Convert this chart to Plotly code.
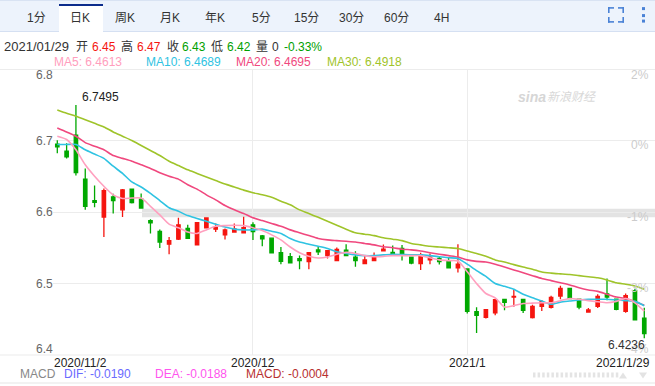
import plotly.graph_objects as go

# ---------- data ----------
open_ = [6.695,6.685,6.7074,6.646,6.616,6.593,6.621,6.603,6.632,6.618,6.588,6.573,6.555,6.562,6.577,6.554,6.578,6.576,6.568,6.572,6.571,6.582,6.5667,6.5634,6.543,6.5375,6.5347,6.5306,6.547,6.539,6.532,6.5468,6.537,6.528,6.532,6.5458,6.5435,6.549,6.537,6.528,6.533,6.535,6.5315,6.522,6.5204,6.4606,6.4528,6.4588,6.4778,6.481,6.4778,6.4523,6.468,6.4667,6.4824,6.493,6.478,6.46,6.468,6.4856,6.478,6.461,6.49,6.4514]
close = [6.691,6.677,6.655,6.608,6.6135,6.63,6.616,6.631,6.613,6.6055,6.585,6.558,6.56,6.582,6.563,6.585,6.5917,6.578,6.575,6.5764,6.578,6.5727,6.5625,6.543,6.531,6.529,6.532,6.543,6.5444,6.546,6.5477,6.539,6.532,6.533,6.5375,6.548,6.5407,6.542,6.5287,6.54,6.537,6.5306,6.522,6.527,6.461,6.4556,6.4634,6.4773,6.4736,6.482,6.4625,6.468,6.4745,6.4806,6.493,6.479,6.467,6.463,6.482,6.481,6.464,6.483,6.449,6.43]
high = [6.7005,6.696,6.7495,6.661,6.637,6.633,6.6255,6.632,6.633,6.626,6.59,6.5755,6.565,6.592,6.582,6.586,6.592,6.584,6.577,6.584,6.5935,6.5856,6.568,6.5635,6.551,6.5426,6.539,6.544,6.552,6.547,6.5505,6.555,6.545,6.5384,6.5435,6.5546,6.553,6.554,6.537,6.543,6.542,6.5375,6.536,6.555,6.5204,6.4667,6.4634,6.4787,6.4778,6.492,6.4778,6.4704,6.4769,6.483,6.497,6.493,6.478,6.4657,6.485,6.507,6.478,6.486,6.4926,6.466]
low = [6.682,6.675,6.651,6.603,6.6065,6.565,6.598,6.593,6.612,6.605,6.57,6.5495,6.541,6.561,6.5625,6.553,6.577,6.572,6.5616,6.571,6.571,6.561,6.552,6.542,6.527,6.5287,6.52,6.52,6.54,6.535,6.532,6.538,6.5236,6.527,6.5315,6.5454,6.54,6.532,6.527,6.519,6.527,6.5264,6.521,6.5153,6.458,6.4306,6.451,6.4556,6.4625,6.4676,6.4588,6.451,6.4616,6.465,6.478,6.479,6.464,6.459,6.4657,6.4764,6.4625,6.459,6.449,6.4236]
ma5 = [6.706,6.7014,6.687,6.666,6.65,6.636,6.624,6.619,6.6195,6.6195,6.608,6.596,6.583,6.578,6.572,6.57,6.575,6.58,6.581,6.5815,6.581,6.578,6.574,6.568,6.561,6.551,6.543,6.538,6.5356,6.537,6.541,6.5435,6.542,6.539,6.5375,6.538,6.539,6.539,6.539,6.539,6.536,6.533,6.532,6.5315,6.5165,6.5,6.486,6.48,6.467,6.469,6.472,6.4725,6.473,6.473,6.476,6.479,6.478,6.476,6.4745,6.473,6.475,6.479,6.473,6.4613]
ma10 = [6.6944,6.6944,6.6944,6.687,6.681,6.675,6.664,6.654,6.642,6.635,6.626,6.616,6.606,6.601,6.595,6.591,6.587,6.583,6.579,6.576,6.575,6.575,6.576,6.573,6.57,6.563,6.558,6.555,6.552,6.549,6.5444,6.542,6.54,6.539,6.539,6.54,6.541,6.5405,6.54,6.54,6.539,6.5375,6.536,6.535,6.527,6.518,6.51,6.5,6.496,6.492,6.485,6.48,6.4755,6.471,6.474,6.4755,6.477,6.478,6.478,6.478,6.477,6.476,6.475,6.4689]
ma20 = [6.7176,6.712,6.706,6.697,6.692,6.687,6.679,6.675,6.671,6.666,6.661,6.655,6.65,6.646,6.638,6.632,6.624,6.617,6.609,6.603,6.598,6.592,6.588,6.584,6.58,6.575,6.571,6.567,6.563,6.561,6.56,6.559,6.558,6.556,6.554,6.5515,6.55,6.548,6.547,6.5454,6.543,6.541,6.539,6.537,6.533,6.531,6.53,6.527,6.523,6.519,6.515,6.511,6.507,6.504,6.501,6.498,6.494,6.491,6.489,6.485,6.481,6.479,6.475,6.4695]
ma30 = [6.7426,6.738,6.734,6.729,6.724,6.719,6.712,6.706,6.7,6.693,6.686,6.679,6.671,6.665,6.659,6.654,6.649,6.644,6.639,6.635,6.6306,6.627,6.624,6.6205,6.615,6.61,6.603,6.598,6.5925,6.587,6.5815,6.576,6.571,6.569,6.567,6.564,6.562,6.56,6.556,6.554,6.552,6.551,6.55,6.549,6.5454,6.542,6.538,6.533,6.53,6.5264,6.523,6.52,6.516,6.5145,6.5135,6.5125,6.511,6.5095,6.508,6.505,6.501,6.499,6.4965,6.4918]
y_ticks = [6.4, 6.5, 6.6, 6.7, 6.8]
y_labels = ["6.8","6.7","6.6","6.5","6.4"]
tabs = ["1分","日K","周K","月K","年K","5分","15分","30分","60分","4H"]
pct_labels = ["2%","0%","-1%","-3%","-4%"]
x_labels = ["2020/11/2","2020/12","2021/1","2021/1/29"]
x_label_idx = [0,21,44,63]

FONT = "Liberation Sans, Noto Sans CJK SC, sans-serif"
GREEN, RED = "#00a800", "#f5150f"
W, H = 655, 386
L, R, T, B = 53, 655, 69, 355.5
PX = 9.317
x0 = -(57.3 - L) / PX
x1 = x0 + (R - L) / PX

idx = list(range(len(close)))
fig = go.Figure()
ci = lambda c: dict(line=dict(color=c, width=1.3), fillcolor=c)
fig.add_trace(go.Candlestick(x=idx, open=open_, high=high, low=low, close=close,
                             increasing=ci(RED), decreasing=ci(GREEN),
                             whiskerwidth=0, hoverinfo="skip", showlegend=False))
for vals, col in [(ma30,"#9fc42a"),(ma20,"#f0487e"),(ma10,"#2fc3e2"),(ma5,"#ffa0bf")]:
    fig.add_trace(go.Scatter(x=idx, y=vals, mode="lines", hoverinfo="skip", showlegend=False,
                             line=dict(color=col, width=1.6, shape="spline", smoothing=0.6)))

def px(x): return (x - L) / (R - L)
def py(y): return (B - y) / (B - T)
def rect(x0_, y0_, x1_, y1_, fill, layer="below"):
    fig.add_shape(type="rect", xref="paper", yref="paper", x0=px(x0_), x1=px(x1_), y0=py(y0_), y1=py(y1_),
                  fillcolor=fill, line=dict(width=0), layer=layer)
def text(x, y, s, color="#333", size=12, anchor="left", **kw):
    fig.add_annotation(xref="paper", yref="paper", x=px(x), y=py(y), text=s, showarrow=False,
                       xanchor=anchor, yanchor="middle", align=anchor, borderpad=0,
                       font=dict(family=FONT, size=size, color=color), **kw)

# toolbar
rect(0, 0, W, 32, "#edf3fc")
rect(0, 0, W, 1, "#d9e3f3")
rect(0, 31, W, 32, "#d5e0f2")
rect(59, 4, 103, 32, "#ffffff")
rect(59, 4, 103, 6, "#0c2c8c")
for t, x in zip(tabs, [36,80,125,170,215,261,306,351,396,441]):
    text(x, 17.5, t, color="#333", size=12, anchor="center")
for a, b, c, d in [(608,7,614,8.6),(618,7,624,8.6),(608,21,614,22.6),(618,21,624,22.6),
                   (608,7,609.6,13),(622.4,7,624,13),(608,17,609.6,22.6),(622.4,17,624,22.6),
                   (642,7,645,10),(642,14,645,17),(642,19.5,645,22.5)]:
    rect(a, b, c, d, "#4a82d6")

# info row, placed word by word
text(3, 46.5, "2021/01/29", size=13)
for s, x, c in [("开",75,"#333"),("6.45",91,RED),("高",120,"#333"),("6.47",136,RED),
                ("收",166,"#333"),("6.43",181,"#00a000"),("低",210,"#333"),("6.42",226,"#00a000"),
                ("量",255,"#333"),("0",271,"#333"),("-0.33%",283,"#00a000")]:
    text(x, 46.5, s, color=c)
text(53, 62, "MA5: 6.4613", color="#ff9ebd")
text(145, 62, "MA10: 6.4689", color="#2fc3e2")
text(235, 62, "MA20: 6.4695", color="#f0487e")
text(326, 62, "MA30: 6.4918", color="#9fc42a")
rect(0, 69, W, 70, "#ececec")

# highlighted band across the plot
rect(142, 209, W, 217.5, "#e3e3e3")

# y labels (left) and percent labels (right)
for v, yy in zip(y_labels, [75,141,212,284,349]):
    text(53.5, yy, v, color="#666", anchor="right")
for s, yy in zip(pct_labels, [75,145,217,288,349]):
    text(650, yy, s, color="#cccccc", anchor="right")

# x labels, extremes
for i, s, a, sh in zip(x_label_idx, x_labels, ["left","center","center","right"], [-4,0,0,7]):
    fig.add_annotation(xref="x", yref="paper", x=i, y=py(363.5), text=s, showarrow=False, xanchor=a,
                       yanchor="middle", xshift=sh, borderpad=0,
                       font=dict(family=FONT, size=12, color="#222"))
fig.add_annotation(xref="x", yref="y", x=2, y=6.7495, text="6.7495", showarrow=False, xanchor="left", yanchor="middle",
                   xshift=5, yshift=8, borderpad=0, font=dict(family=FONT, size=12, color="#222"))
fig.add_annotation(xref="x", yref="y", x=63, y=6.4236, text="6.4236", showarrow=False, xanchor="right", yanchor="middle",
                   xshift=2, yshift=-7, borderpad=0, font=dict(family=FONT, size=12, color="#333"))

# watermark
fig.add_annotation(xref="paper", yref="paper", x=px(516), y=py(97), text="<b><i>sina</i></b>", showarrow=False,
                   xanchor="left", yanchor="middle", font=dict(family=FONT, size=14, color="#d6d6d6"))
fig.add_annotation(xref="paper", yref="paper", x=px(545), y=py(97), text="<i>新浪财经</i>", showarrow=False,
                   xanchor="left", yanchor="middle", font=dict(family=FONT, size=12, color="#d8d8d8"))

# bottom row
text(19, 374.5, "MACD", color="#888")
text(63, 374.5, "DIF: -0.0190", color="#6a6aff")
text(154, 374.5, "DEA: -0.0188", color="#ff55ee")
text(245, 374.5, "MACD: -0.0004", color="#b83030")
rect(0, 355, W, 356, "#ececec")
rect(0, 383, W, 384, "#e6e6e6")
for k in range(19):
    rect(533 + k*4.6, 373, 535.5 + k*4.6, 378, "#e4e4e4")
fig.add_shape(type="path", xref="paper", yref="paper", line=dict(width=0), fillcolor="#e3e3e3",
              path=f"M {px(619)} {py(379)} L {px(627)} {py(379)} L {px(623)} {py(373)} Z")
fig.add_shape(type="path", xref="paper", yref="paper", line=dict(width=0), fillcolor="#e3e3e3",
              path=f"M {px(639)} {py(373)} L {px(647)} {py(373)} L {px(643)} {py(379)} Z")

fig.update_layout(
    width=W, height=H, autosize=False, paper_bgcolor="#ffffff", plot_bgcolor="rgba(0,0,0,0)",
    margin=dict(l=L, r=W-R, t=T, b=H-B, pad=0), showlegend=False, hovermode=False, boxgap=0.48,
    xaxis=dict(range=[x0, x1], tickvals=[21, 44], showticklabels=False, showgrid=True, gridcolor="#ececec",
               gridwidth=1, zeroline=False, rangeslider=dict(visible=False), ticks="", showline=False),
    yaxis=dict(range=[6.4, 6.8], tickvals=y_ticks, showticklabels=False, showgrid=True, gridcolor="#ececec",
               gridwidth=1, zeroline=False, ticks="", showline=False),
)
fig.write_html("out.html", config=dict(displayModeBar=False),
               post_script="document.body.style.margin='0';document.body.style.overflow='hidden';")
